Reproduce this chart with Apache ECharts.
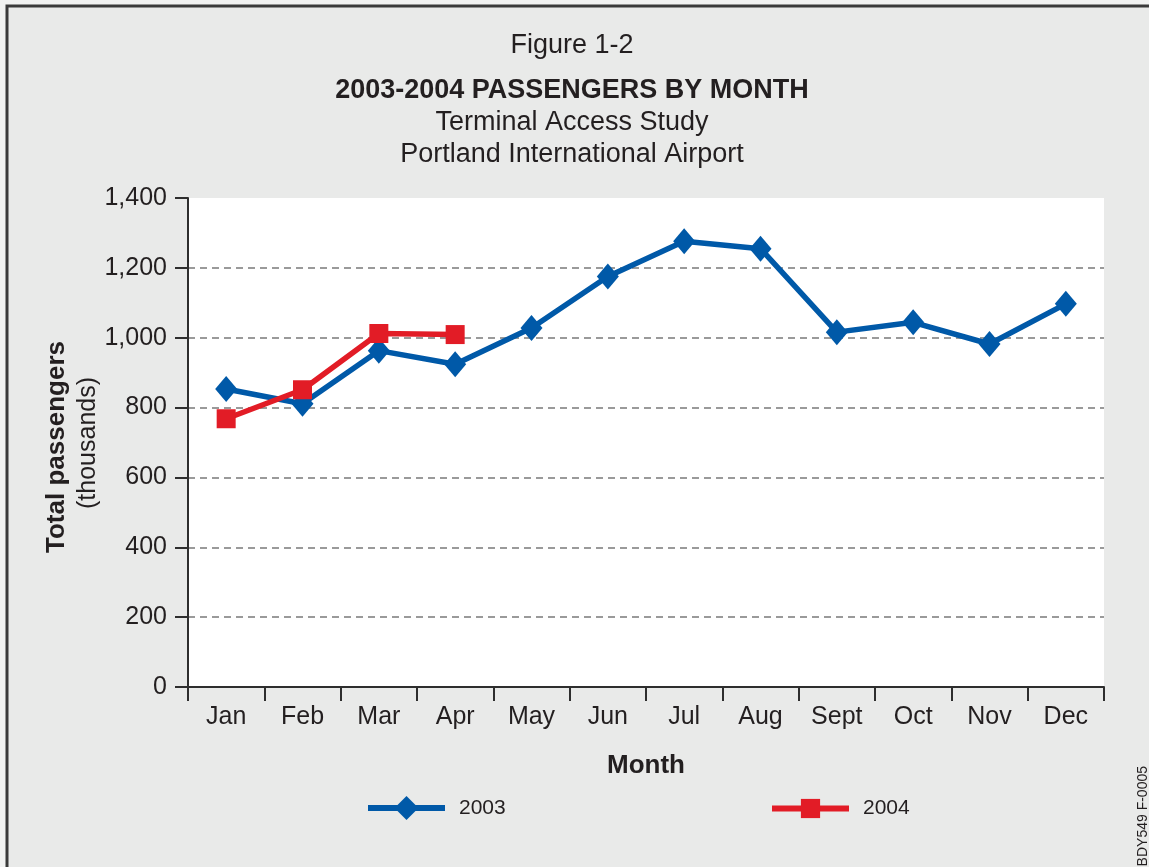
<!DOCTYPE html>
<html>
<head>
<meta charset="utf-8">
<title>2003-2004 Passengers by Month</title>
<script src="https://cdn.jsdelivr.net/npm/echarts@6/dist/echarts.min.js"></script>
<style>
  html, body { margin: 0; padding: 0; background: #f1f2f1; }
  #chart { width: 1149px; height: 867px; }
</style>
</head>
<body>
<div id="chart"></div>
<script>
// months on the x axis
var months = ['Jan', 'Feb', 'Mar', 'Apr', 'May', 'Jun', 'Jul', 'Aug', 'Sept', 'Oct', 'Nov', 'Dec'];
// total passengers (thousands)
var pax2003 = [853, 811, 963, 924, 1028, 1175, 1276, 1255, 1016, 1044, 982, 1097];
var pax2004 = [768, 851, 1012, 1009];
// y axis ticks
var yMin = 0, yMax = 1400, yStep = 200;

var FONT = '"Liberation Sans", Arial, Helvetica, sans-serif';
var INK = '#231f20';
var BLUE = '#0059a8';
var RED = '#e21c26';

// no dashed line on 0 (axis) and 1400 (top of plot)
var gridColors = [];
for (var v = yMin; v <= yMax; v += yStep) {
  gridColors.push(v === yMin || v === yMax ? 'rgba(0,0,0,0)' : '#7a7a7a');
}

var chart = echarts.init(document.getElementById('chart'));

var option = {
  animation: false,
  backgroundColor: 'transparent',
  textStyle: { fontFamily: FONT, color: INK },
  graphic: [
    {
      type: 'rect', z: -10, silent: true,
      shape: { x: 7, y: 6, width: 1170, height: 900 },
      style: { fill: '#e9eae9', stroke: '#3a3a3a', lineWidth: 3 }
    },
    {
      type: 'text', style: { x: 572, y: 46, text: 'Figure 1-2', font: '27px ' + FONT, fill: INK, align: 'center', verticalAlign: 'middle' }
    },
    {
      type: 'text', style: { x: 572, y: 91, text: '2003-2004 PASSENGERS BY MONTH', font: 'bold 27px ' + FONT, fill: INK, align: 'center', verticalAlign: 'middle' }
    },
    {
      type: 'text', style: { x: 572, y: 123, text: 'Terminal Access Study', font: '27px ' + FONT, fill: INK, align: 'center', verticalAlign: 'middle' }
    },
    {
      type: 'text', style: { x: 572, y: 155, text: 'Portland International Airport', font: '27px ' + FONT, fill: INK, align: 'center', verticalAlign: 'middle' }
    },
    {
      type: 'text', x: 57, y: 447, rotation: Math.PI / 2,
      style: { text: 'Total passengers', font: 'bold 26px ' + FONT, fill: INK, align: 'center', verticalAlign: 'middle' }
    },
    {
      type: 'text', x: 88, y: 443, rotation: Math.PI / 2,
      style: { text: '(thousands)', font: '25px ' + FONT, fill: INK, align: 'center', verticalAlign: 'middle' }
    },
    {
      type: 'text', x: 1143, y: 766, rotation: Math.PI / 2,
      style: { text: 'BDY549 F-0005', font: '14px ' + FONT, fill: INK, align: 'right', verticalAlign: 'middle' }
    }
  ],
  grid: {
    left: 188, right: 45, top: 198, bottom: 180,
    show: true, backgroundColor: '#ffffff', borderWidth: 0
  },
  legend: [
    {
      data: ['2003'], left: 360, top: 791,
      itemWidth: 77, itemHeight: 30,
      lineStyle: { width: 6 },
      textStyle: { fontSize: 21, fontFamily: FONT, color: INK, padding: [0, 0, 0, 9] }
    },
    {
      data: ['2004'], left: 764, top: 793,
      itemWidth: 77, itemHeight: 24,
      lineStyle: { width: 6 },
      textStyle: { fontSize: 21, fontFamily: FONT, color: INK, padding: [0, 0, 0, 9] }
    }
  ],
  xAxis: {
    type: 'category',
    data: months,
    boundaryGap: true,
    name: 'Month',
    nameLocation: 'middle',
    nameGap: 66,
    nameTextStyle: { fontSize: 26, fontWeight: 'bold', fontFamily: FONT, color: INK },
    axisLine: { lineStyle: { color: '#2e2e2e', width: 2 } },
    axisTick: { show: true, interval: 0, length: 14, lineStyle: { color: '#2e2e2e', width: 2 } },
    axisLabel: { fontSize: 25, color: INK, margin: 18, interval: 0 },
    splitLine: { show: false }
  },
  yAxis: {
    type: 'value',
    min: yMin, max: yMax, interval: yStep,
    axisLine: { show: true, lineStyle: { color: '#2e2e2e', width: 2 } },
    axisTick: { show: true, length: 13, lineStyle: { color: '#2e2e2e', width: 2 } },
    axisLabel: {
      fontSize: 25, color: INK, margin: 21,
      formatter: function (val) { return val.toLocaleString('en-US'); }
    },
    splitLine: { show: true, lineStyle: { color: gridColors, width: 1.5, type: [7, 5] } }
  },
  series: [
    {
      name: '2003', type: 'line', data: pax2003,
      symbol: 'diamond', symbolSize: [22, 26],
      lineStyle: { color: BLUE, width: 5.5 },
      itemStyle: { color: BLUE },
      z: 2
    },
    {
      name: '2004', type: 'line', data: pax2004,
      symbol: 'rect', symbolSize: 19,
      lineStyle: { color: RED, width: 5.5 },
      itemStyle: { color: RED },
      z: 3
    }
  ]
};

chart.setOption(option);
</script>
</body>
</html>
